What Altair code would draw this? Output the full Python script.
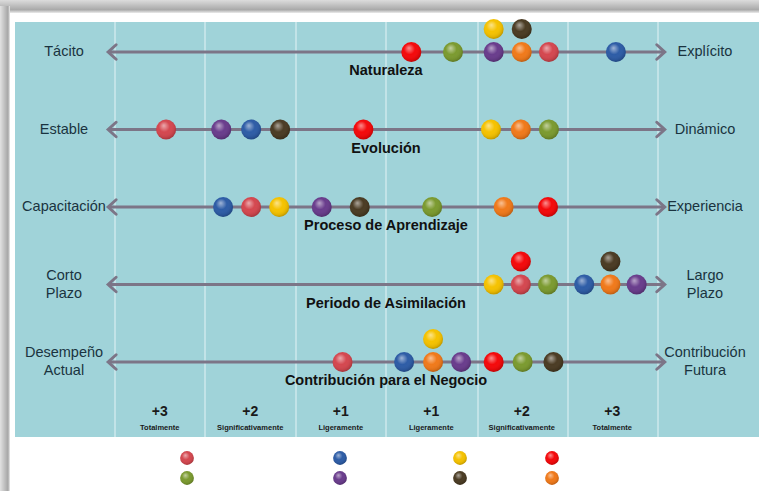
import altair as alt
import pandas as pd

# ---------------- data ----------------
rows = ["Naturaleza", "Evolución", "Proceso de Aprendizaje",
        "Periodo de Asimilación", "Contribución para el Negocio"]
left_labels = ["Tácito", "Estable", "Capacitación", "Corto\nPlazo", "Desempeño\nActual"]
right_labels = ["Explícito", "Dinámico", "Experiencia", "Largo\nPlazo", "Contribución\nFutura"]

categories = ["rosa", "verde", "azul", "morado", "amarillo", "café", "rojo", "naranja"]
palette = ["#d4474f", "#7b9a2f", "#2d5ca6", "#693c8c", "#f5c200", "#4a3b23", "#f4080a", "#f0791a"]

# per row: category, position (-3 .. +3), stack level
row0 = [("rojo", 0.28, 0), ("verde", 0.74, 0), ("morado", 1.19, 0), ("naranja", 1.50, 0),
        ("rosa", 1.80, 0), ("azul", 2.54, 0), ("amarillo", 1.19, 1), ("café", 1.50, 1)]
row1 = [("rosa", -2.43, 0), ("morado", -1.82, 0), ("azul", -1.49, 0), ("café", -1.17, 0),
        ("rojo", -0.25, 0), ("amarillo", 1.16, 0), ("naranja", 1.49, 0), ("verde", 1.80, 0)]
row2 = [("azul", -1.80, 0), ("rosa", -1.49, 0), ("amarillo", -1.18, 0), ("morado", -0.71, 0),
        ("café", -0.29, 0), ("verde", 0.51, 0), ("naranja", 1.30, 0), ("rojo", 1.79, 0)]
row3 = [("amarillo", 1.19, 0), ("rosa", 1.49, 0), ("verde", 1.79, 0), ("azul", 2.19, 0),
        ("naranja", 2.48, 0), ("morado", 2.77, 0), ("rojo", 1.49, 1), ("café", 2.48, 1)]
row4 = [("rosa", -0.48, 0), ("azul", 0.20, 0), ("naranja", 0.52, 0), ("morado", 0.83, 0),
        ("rojo", 1.19, 0), ("verde", 1.51, 0), ("café", 1.85, 0), ("amarillo", 0.52, 1)]
ball_rows = [row0, row1, row2, row3, row4]

scale_values = ["+3", "+2", "+1", "+1", "+2", "+3"]
scale_words = ["Totalmente", "Significativamente", "Ligeramente",
               "Ligeramente", "Significativamente", "Totalmente"]

legend_order = [["rosa", "verde"], ["azul", "morado"], ["amarillo", "café"], ["rojo", "naranja"]]

# ---------------- layout helpers ----------------
W, H = 759, 491
CX, CW = 386.0, 90.5       # pixel of centre, pixels per unit
RY, RH = 52.0, 77.5        # pixel of first row, pixels per row
LINE_H = 18


def ux(px):
    return (px - CX) / CW


def uy(py):
    return (py - RY) / RH


STACK = 23 / RH
xs = alt.Scale(domain=[ux(0), ux(W)], nice=False, zero=False)
ys = alt.Scale(domain=[uy(0), uy(H)], nice=False, zero=False, reverse=True)
FONT = "Liberation Sans"
TXT = "#1a3340"

balls = pd.DataFrame([
    {"fila": rows[i], "cat": c, "pos": v, "y": i - lvl * STACK}
    for i, r in enumerate(ball_rows) for (c, v, lvl) in r
])
row_df = pd.DataFrame({
    "fila": rows,
    "izq": left_labels,
    "der": right_labels,
    "r": list(range(len(rows))),
})
# vertical centring of multi-line side labels
row_df["yl"] = [r - (s.count("\n")) * (LINE_H / 2) / RH for r, s in zip(row_df["r"], left_labels)]
row_df["yr"] = [r - (s.count("\n")) * (LINE_H / 2) / RH for r, s in zip(row_df["r"], right_labels)]
row_df["ytitle"] = row_df["r"] + 19 / RH
row_df["xl"] = -3.07
row_df["xr"] = 3.08
row_df["xlab_l"] = ux(64)
row_df["xlab_r"] = ux(705)
row_df["xt"] = 0.0

cols = pd.DataFrame({
    "val": scale_values,
    "word": scale_words,
    "x": [-2.5, -1.5, -0.5, 0.5, 1.5, 2.5],
})
cols["y1"] = uy(412)
cols["y2"] = uy(428)

leg_x = [ux(187), ux(340), ux(460), ux(552)]
leg_y = [uy(458), uy(478)]
legend = pd.DataFrame([
    {"cat": c, "x": leg_x[i], "y": leg_y[j]}
    for i, pair in enumerate(legend_order) for j, c in enumerate(pair)
])

dividers = pd.DataFrame({"x": [ux(p) for p in [115, 205, 296, 386, 478, 568, 658]]})
dividers["y"] = uy(22)
dividers["y2"] = uy(437)

color = alt.Color("cat:N", scale=alt.Scale(domain=categories, range=palette), legend=None)

# ---------------- frame ----------------
frame_df = pd.DataFrame({"a": [0]})
top_band = alt.Chart(frame_df).mark_rect(
    color=alt.Gradient(gradient="linear", x1=0, y1=0, x2=0, y2=1,
                       stops=[alt.GradientStop(offset=0, color="#dcdcdc"),
                              alt.GradientStop(offset=0.75, color="#a9a9a9"),
                              alt.GradientStop(offset=1, color="#ececec")])
).encode(x=alt.value(0), x2=alt.value(W), y=alt.value(0), y2=alt.value(13))
left_band = alt.Chart(frame_df).mark_rect(
    color=alt.Gradient(gradient="linear", x1=0, y1=0, x2=1, y2=0,
                       stops=[alt.GradientStop(offset=0, color="#e2e2e2"),
                              alt.GradientStop(offset=0.8, color="#a6a6a6"),
                              alt.GradientStop(offset=1, color="#ededed")])
).encode(x=alt.value(0), x2=alt.value(10), y=alt.value(6), y2=alt.value(H))
panel = alt.Chart(frame_df).mark_rect(color="#a0d3d9").encode(
    x=alt.value(15), x2=alt.value(W), y=alt.value(22), y2=alt.value(437))

div_rules = alt.Chart(dividers).mark_rule(color="#d9eff1", strokeWidth=1.2).encode(
    x=alt.X("x:Q", scale=xs, axis=None),
    y=alt.Y("y:Q", scale=ys, axis=None), y2="y2:Q")

# ---------------- arrows ----------------
ARROW = "#7c7587"
arrow_lines = alt.Chart(row_df).mark_rule(color=ARROW, strokeWidth=3).encode(
    x=alt.X("xl:Q", scale=xs, axis=None), x2="xr:Q",
    y=alt.Y("r:Q", scale=ys, axis=None))
head_l = alt.Chart(row_df).mark_point(
    shape="M1.1,-1L0,0L1.1,1", size=210, filled=False, stroke=ARROW,
    strokeWidth=3, strokeCap="round", strokeJoin="miter", opacity=1
).encode(x=alt.X("xl:Q", scale=xs, axis=None), y=alt.Y("r:Q", scale=ys, axis=None))
head_r = alt.Chart(row_df).mark_point(
    shape="M-1.1,-1L0,0L-1.1,1", size=210, filled=False, stroke=ARROW,
    strokeWidth=3, strokeCap="round", strokeJoin="miter", opacity=1
).encode(x=alt.X("xr:Q", scale=xs, axis=None), y=alt.Y("r:Q", scale=ys, axis=None))

# ---------------- texts ----------------
txt_left = alt.Chart(row_df).mark_text(
    font=FONT, fontSize=14.5, color=TXT, align="center", baseline="middle",
    lineBreak="\n", lineHeight=LINE_H
).encode(x=alt.X("xlab_l:Q", scale=xs, axis=None), y=alt.Y("yl:Q", scale=ys, axis=None),
         text="izq:N")
txt_right = alt.Chart(row_df).mark_text(
    font=FONT, fontSize=14.5, color=TXT, align="center", baseline="middle",
    lineBreak="\n", lineHeight=LINE_H
).encode(x=alt.X("xlab_r:Q", scale=xs, axis=None), y=alt.Y("yr:Q", scale=ys, axis=None),
         text="der:N")
txt_title = alt.Chart(row_df).mark_text(
    font=FONT, fontSize=14.5, fontWeight="bold", color="#111111", align="center",
    baseline="middle"
).encode(x=alt.X("xt:Q", scale=xs, axis=None), y=alt.Y("ytitle:Q", scale=ys, axis=None),
         text="fila:N")

txt_val = alt.Chart(cols).mark_text(
    font=FONT, fontSize=14, fontWeight="bold", color="#1a1a1a", baseline="middle"
).encode(x=alt.X("x:Q", scale=xs, axis=None), y=alt.Y("y1:Q", scale=ys, axis=None),
         text="val:N")
txt_word = alt.Chart(cols).mark_text(
    font=FONT, fontSize=7.5, fontWeight="bold", color="#1a1a1a", baseline="middle"
).encode(x=alt.X("x:Q", scale=xs, axis=None), y=alt.Y("y2:Q", scale=ys, axis=None),
         text="word:N")

# ---------------- balls ----------------
shine = alt.Gradient(
    gradient="radial", x1=0.38, y1=0.3, r1=0, x2=0.45, y2=0.42, r2=0.62,
    stops=[alt.GradientStop(offset=0, color="rgba(255,255,255,0.55)"),
           alt.GradientStop(offset=0.45, color="rgba(255,255,255,0)"),
           alt.GradientStop(offset=0.8, color="rgba(0,0,0,0.08)"),
           alt.GradientStop(offset=1, color="rgba(0,0,0,0.28)")])

ball_base = alt.Chart(balls).mark_circle(size=400, opacity=1).encode(
    x=alt.X("pos:Q", scale=xs, axis=None), y=alt.Y("y:Q", scale=ys, axis=None),
    color=color)
ball_shine = alt.Chart(balls).mark_circle(size=400, opacity=1, color=shine).encode(
    x=alt.X("pos:Q", scale=xs, axis=None), y=alt.Y("y:Q", scale=ys, axis=None))

leg_base = alt.Chart(legend).mark_circle(size=190, opacity=1).encode(
    x=alt.X("x:Q", scale=xs, axis=None), y=alt.Y("y:Q", scale=ys, axis=None),
    color=color)
leg_shine = alt.Chart(legend).mark_circle(size=190, opacity=1, color=shine).encode(
    x=alt.X("x:Q", scale=xs, axis=None), y=alt.Y("y:Q", scale=ys, axis=None))

chart = alt.layer(
    top_band, left_band, panel, div_rules,
    arrow_lines, head_l, head_r,
    txt_left, txt_right, txt_title, txt_val, txt_word,
    ball_base, ball_shine, leg_base, leg_shine,
).properties(
    width=W, height=H, padding=0, autosize=alt.AutoSizeParams(type="none"),
    background="#ffffff"
).configure_view(stroke=None)

chart.save("out.html", embed_options={"renderer": "svg", "actions": False})
